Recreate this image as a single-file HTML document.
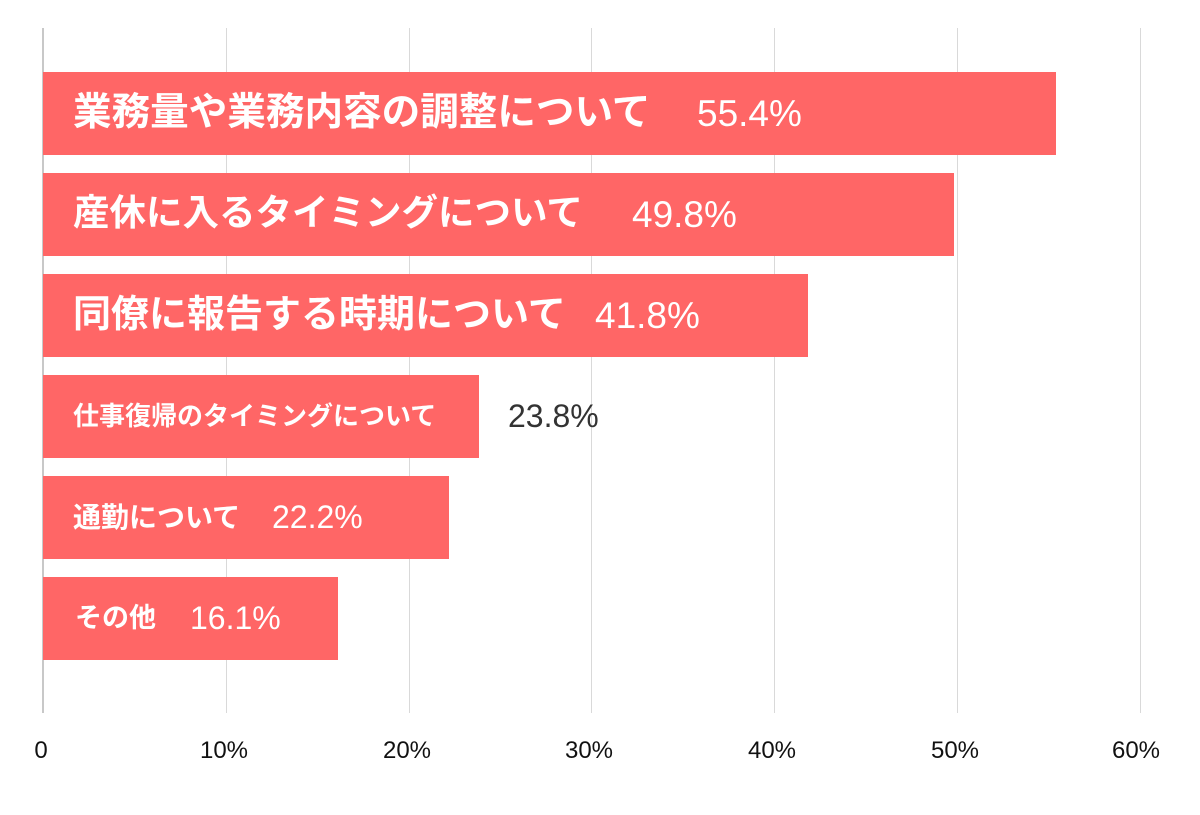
<!DOCTYPE html>
<html><head><meta charset="utf-8"><style>
body{margin:0;width:1200px;height:815px;background:#fff;position:relative;overflow:hidden;font-family:"Liberation Sans","Noto Sans CJK JP",sans-serif}
.g{position:absolute;top:28px;height:685px;width:1px;background:#d9d9d9}
.b{position:absolute;left:43px;height:83px;background:#ff6666}
.t{position:absolute;color:#fff;font-weight:bold;white-space:nowrap;line-height:1}
.p{position:absolute;color:#fff;font-weight:normal;white-space:nowrap;line-height:1}
.x{position:absolute;top:739px;font-size:24px;color:#111;width:80px;text-align:center;line-height:1}
</style></head><body>
<div class="g" style="left:42px;width:2px;background:#c8c8c8"></div>
<div class="g" style="left:226px"></div><div class="g" style="left:409px"></div><div class="g" style="left:591px"></div><div class="g" style="left:774px"></div><div class="g" style="left:957px"></div><div class="g" style="left:1140px"></div>
<div class="b" style="top:72px;width:1013px"></div>
<div class="b" style="top:173px;width:911px"></div>
<div class="b" style="top:274px;width:765px"></div>
<div class="b" style="top:375px;width:436px"></div>
<div class="b" style="top:476px;width:406px"></div>
<div class="b" style="top:577px;width:295px"></div>
<div class="t" style="left:73px;top:94px;font-size:38.6px">業務量や業務内容の調整について</div>
<div class="p" style="left:697px;top:95px;font-size:37px">55.4%</div>
<div class="t" style="left:73px;top:195px;font-size:36.5px">産休に入るタイミングについて</div>
<div class="p" style="left:632px;top:196px;font-size:37px">49.8%</div>
<div class="t" style="left:73px;top:296px;font-size:38px">同僚に報告する時期について</div>
<div class="p" style="left:595px;top:297px;font-size:37px">41.8%</div>
<div class="t" style="left:73px;top:403px;font-size:26px">仕事復帰のタイミングについて</div>
<div class="p" style="left:508px;top:400px;font-size:32px;color:#333">23.8%</div>
<div class="t" style="left:73px;top:504px;font-size:28px">通勤について</div>
<div class="p" style="left:272px;top:501px;font-size:32px">22.2%</div>
<div class="t" style="left:75px;top:605px;font-size:27px">その他</div>
<div class="p" style="left:190px;top:602px;font-size:32px">16.1%</div>
<div class="x" style="left:1px">0</div>
<div class="x" style="left:184px">10%</div>
<div class="x" style="left:367px">20%</div>
<div class="x" style="left:549px">30%</div>
<div class="x" style="left:732px">40%</div>
<div class="x" style="left:915px">50%</div>
<div class="x" style="left:1096px">60%</div>
</body></html>
